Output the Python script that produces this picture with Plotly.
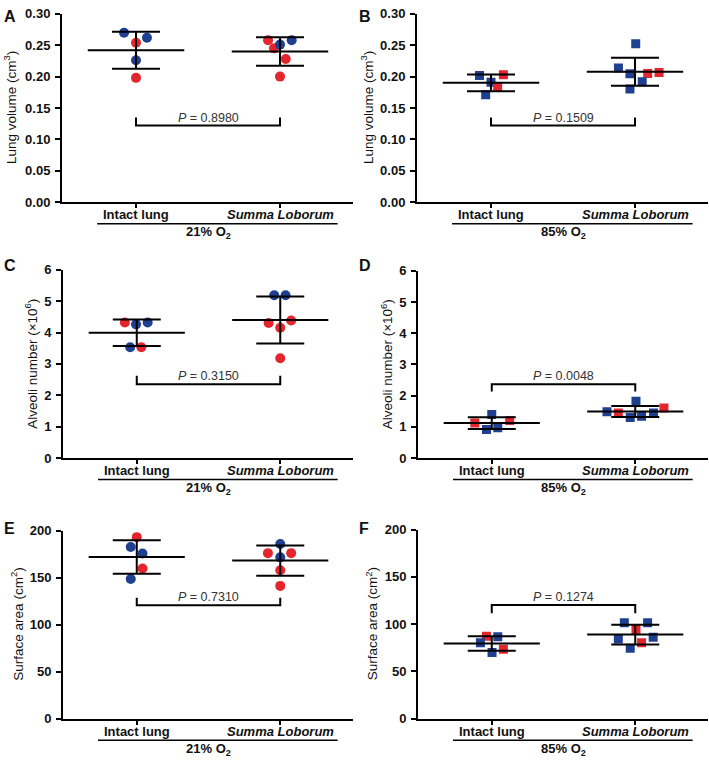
import plotly.graph_objects as go

# ---------------- data ----------------
categories = ["Intact lung", "Summa Loborum"]

# Panel A: lung volume (cm3), 21% O2
A_intact = [0.270, 0.254, 0.262, 0.226, 0.198]
A_intact_grp = ["b", "r", "b", "b", "r"]
A_summa = [0.258, 0.245, 0.251, 0.258, 0.228, 0.200]
A_summa_grp = ["r", "r", "b", "b", "r", "r"]

# Panel B: lung volume (cm3), 85% O2
B_intact = [0.2018, 0.191, 0.203, 0.1836, 0.171]
B_intact_grp = ["b", "b", "r", "r", "b"]
B_summa = [0.2522, 0.2137, 0.2044, 0.2049, 0.2065, 0.1919, 0.1804]
B_summa_grp = ["b", "b", "b", "r", "r", "b", "b"]

# Panel C: alveoli number (x10^6), 21% O2
C_intact = [4.32, 4.26, 4.32, 3.53, 3.53]
C_intact_grp = ["r", "b", "b", "b", "r"]
C_summa = [5.19, 5.19, 4.30, 4.38, 4.15, 3.18]
C_summa_grp = ["b", "b", "r", "r", "r", "r"]

# Panel D: alveoli number (x10^6), 85% O2
D_intact = [1.39, 1.12, 1.20, 0.97, 0.91]
D_intact_grp = ["b", "r", "r", "b", "b"]
D_summa = [1.82, 1.60, 1.48, 1.445, 1.445, 1.30, 1.34]
D_summa_grp = ["b", "r", "b", "r", "b", "b", "b"]

# Panel E: surface area (cm2), 21% O2
E_intact = [193.0, 182.6, 175.7, 159.7, 148.5]
E_intact_grp = ["r", "b", "b", "r", "b"]
E_summa = [185.7, 171.5, 176.0, 176.0, 157.9, 141.2]
E_summa_grp = ["b", "b", "r", "r", "r", "r"]

# Panel F: surface area (cm2), 85% O2
F_intact = [87.3, 86.7, 80.4, 73.5, 70.0]
F_intact_grp = ["r", "b", "b", "r", "b"]
F_summa = [101.6, 101.6, 94.3, 84.2, 86.3, 80.4, 74.5]
F_summa_grp = ["b", "b", "r", "b", "b", "r", "b"]

p_labels = {"A": "0.8980", "B": "0.1509", "C": "0.3150", "D": "0.0048", "E": "0.7310", "F": "0.1274"}

y_titles = {
    "A": "Lung volume (cm<sup>3</sup>)",
    "B": "Lung volume (cm<sup>3</sup>)",
    "C": "Alveoli number (×10<sup>6</sup>)",
    "D": "Alveoli number (×10<sup>6</sup>)",
    "E": "Surface area (cm<sup>2</sup>)",
    "F": "Surface area (cm<sup>2</sup>)",
}
group_labels = {"A": "21% O<sub>2</sub>", "B": "85% O<sub>2</sub>",
                "C": "21% O<sub>2</sub>", "D": "85% O<sub>2</sub>",
                "E": "21% O<sub>2</sub>", "F": "85% O<sub>2</sub>"}
category_text = ["<b>Intact lung</b>", "<b><i>Summa Loborum</i></b>"]

# ---------------- layout / style (not data) ----------------
# horizontal jitter of points (category units)
A_intact_jit = [-0.083, 0.0, 0.076, 0.0, 0.0]
A_summa_jit = [-0.083, -0.042, 0.0, 0.081, 0.04, 0.0]
B_intact_jit = [-0.08, 0.0, 0.086, 0.046, -0.037]
B_summa_jit = [0.005, -0.115, -0.035, 0.088, 0.167, 0.05, -0.035]
C_intact_jit = [-0.083, -0.005, 0.076, -0.046, 0.032]
C_summa_jit = [-0.042, 0.037, -0.081, 0.076, 0.0, 0.0]
D_intact_jit = [0.0, -0.118, 0.125, 0.042, -0.037]
D_summa_jit = [0.005, 0.2, -0.197, -0.118, 0.127, -0.035, 0.044]
E_intact_jit = [0.0, -0.042, 0.04, 0.04, -0.042]
E_summa_jit = [0.0, 0.0, -0.086, 0.076, 0.0, 0.0]
F_intact_jit = [-0.037, 0.042, -0.079, 0.081, 0.002]
F_summa_jit = [-0.076, 0.086, 0.005, -0.118, 0.125, 0.044, -0.035]

BLUE = "#1f3f91"
RED = "#e3262d"
FONT = "Liberation Sans, Arial, Helvetica, sans-serif"

panels = {
    "A": dict(intact=A_intact, ig=A_intact_grp, ij=A_intact_jit, summa=A_summa, sg=A_summa_grp, sj=A_summa_jit,
              sym="circle", yr=[0, 0.30], dt=0.05, fmt=".2f", br=(0.122, 0.135)),
    "B": dict(intact=B_intact, ig=B_intact_grp, ij=B_intact_jit, summa=B_summa, sg=B_summa_grp, sj=B_summa_jit,
              sym="square", yr=[0, 0.30], dt=0.05, fmt=".2f", br=(0.122, 0.135)),
    "C": dict(intact=C_intact, ig=C_intact_grp, ij=C_intact_jit, summa=C_summa, sg=C_summa_grp, sj=C_summa_jit,
              sym="circle", yr=[0, 6], dt=1, fmt="d", br=(2.35, 2.62)),
    "D": dict(intact=D_intact, ig=D_intact_grp, ij=D_intact_jit, summa=D_summa, sg=D_summa_grp, sj=D_summa_jit,
              sym="square", yr=[0, 6], dt=1, fmt="d", br=(2.36, 2.13)),
    "E": dict(intact=E_intact, ig=E_intact_grp, ij=E_intact_jit, summa=E_summa, sg=E_summa_grp, sj=E_summa_jit,
              sym="circle", yr=[0, 200], dt=50, fmt="d", br=(120.7, 128.7)),
    "F": dict(intact=F_intact, ig=F_intact_grp, ij=F_intact_jit, summa=F_summa, sg=F_summa_grp, sj=F_summa_jit,
              sym="square", yr=[0, 200], dt=50, fmt="d", br=(120.3, 111.6)),
}

W, H = 709, 766
# pixel geometry of each panel: (x_left, x_right, y_top, y_bottom)
geom = {
    "A": (62, 353, 7, 199), "B": (417, 708, 7, 199),
    "C": (63, 353, 268, 460), "D": (418, 708, 269, 460),
    "E": (63, 353, 534, 726), "F": (418, 708, 533, 726),
}
ytitle_x = {"A": 10, "B": 367, "C": 31, "D": 387, "E": 17, "F": 372}
letter_pos = {"A": (2, 10), "B": (357, 10), "C": (2, 264), "D": (357, 264), "E": (2, 532), "F": (357, 532)}
xr = [-0.514, 1.507]


def mean_sd(v):
    m = sum(v) / len(v)
    s = (sum((x - m) ** 2 for x in v) / (len(v) - 1)) ** 0.5
    return m, s


def py(pix):
    return 1 - pix / H


fig = go.Figure()
layout = dict(width=W, height=H, margin=dict(l=0, r=0, t=0, b=0),
              plot_bgcolor="white", paper_bgcolor="white", showlegend=False,
              font=dict(family=FONT, color="#111"))
shapes = []
annotations = []

for i, key in enumerate(["A", "B", "C", "D", "E", "F"]):
    p = panels[key]
    xl, xrgt, yt, yb = geom[key]
    xa = "x" if i == 0 else f"x{i + 1}"
    ya = "y" if i == 0 else f"y{i + 1}"
    xaxis_name = "xaxis" if i == 0 else f"xaxis{i + 1}"
    yaxis_name = "yaxis" if i == 0 else f"yaxis{i + 1}"

    # points
    for ci, (vals, grp, jit) in enumerate([(p["intact"], p["ig"], p["ij"]), (p["summa"], p["sg"], p["sj"])]):
        fig.add_trace(go.Scatter(
            x=[ci + j for j in jit], y=vals, mode="markers", xaxis=xa, yaxis=ya,
            marker=dict(symbol=p["sym"], size=10 if p["sym"] == "circle" else 9,
                        color=[BLUE if g == "b" else RED for g in grp], line=dict(width=0)),
            hoverinfo="y"))
    # mean lines and SD bars
    for ci, vals in enumerate([p["intact"], p["summa"]]):
        m, s = mean_sd(vals)
        fig.add_trace(go.Scatter(x=[ci - 0.335, ci + 0.335], y=[m, m], mode="lines", xaxis=xa, yaxis=ya,
                                 line=dict(color="black", width=2), hoverinfo="skip"))
        fig.add_trace(go.Scatter(x=[ci], y=[m], mode="markers", xaxis=xa, yaxis=ya,
                                 marker=dict(size=1, color="black", opacity=0),
                                 error_y=dict(type="data", array=[s], visible=True, color="black",
                                              thickness=2, width=24),
                                 hoverinfo="skip"))

    layout[xaxis_name] = dict(
        domain=[xl / W, xrgt / W], anchor=ya, range=xr, tickmode="array", tickvals=[0, 1],
        showticklabels=False,
        showline=True, linecolor="black", linewidth=2, ticks="outside", ticklen=4, tickwidth=2,
        tickcolor="black", showgrid=False, zeroline=False, fixedrange=True)
    layout[yaxis_name] = dict(
        domain=[py(yb), py(yt)], anchor=xa, range=p["yr"], tick0=0, dtick=p["dt"],
        tickformat=p["fmt"], showline=True, linecolor="black", linewidth=2, ticks="outside",
        ticklen=5, tickwidth=2, tickcolor="black", showgrid=False, zeroline=False,
        tickfont=dict(size=13, color="#111", weight="bold"), ticklabelstandoff=2, fixedrange=True)

    # category labels
    for ci, ct in enumerate(category_text):
        annotations.append(dict(xref=xa, yref="paper", x=ci, y=py(yb + 13), xanchor="center", yanchor="middle",
                                text=ct, showarrow=False, font=dict(size=13, color="#111")))
    # bracket
    y0, y1 = p["br"]
    shapes.append(dict(type="path", xref=xa, yref=ya,
                       path=f"M 0 {y1} L 0 {y0} L 1 {y0} L 1 {y1}",
                       line=dict(color="black", width=2)))
    annotations.append(dict(xref=xa, yref=ya, x=0.5, y=y0, xanchor="center", yanchor="bottom", yshift=-1,
                            text=f"<i>P</i> = {p_labels[key]}", showarrow=False,
                            font=dict(size=12.5, color="#333")))
    # group underline
    ul_y = py(yb + 22)
    shapes.append(dict(type="line", xref=xa, yref="paper", x0=-0.27, x1=1.40, y0=ul_y, y1=ul_y,
                       line=dict(color="black", width=1.5)))
    annotations.append(dict(xref=xa, yref="paper", x=0.5, y=py(yb + 31), xanchor="center", yanchor="middle",
                            text=f"<b>{group_labels[key]}</b>", showarrow=False,
                            font=dict(size=13, color="#111")))
    # y title
    annotations.append(dict(xref="paper", yref="paper", x=ytitle_x[key] / W, y=py((yt + yb) / 2),
                            xanchor="center", yanchor="middle",
                            text=y_titles[key], textangle=-90, showarrow=False,
                            font=dict(size=13.5, color="#111")))
    # panel letter
    lx, ly = letter_pos[key]
    annotations.append(dict(xref="paper", yref="paper", x=lx / W, y=py(ly), xanchor="left", yanchor="middle",
                            text=f"<b>{key}</b>", showarrow=False, font=dict(size=16, color="#111")))

layout["shapes"] = shapes
layout["annotations"] = annotations
fig.update_layout(**layout)
fig.write_html("out.html", config={"displayModeBar": False},
               post_script="document.body.style.margin='0';document.body.style.padding='0';")
